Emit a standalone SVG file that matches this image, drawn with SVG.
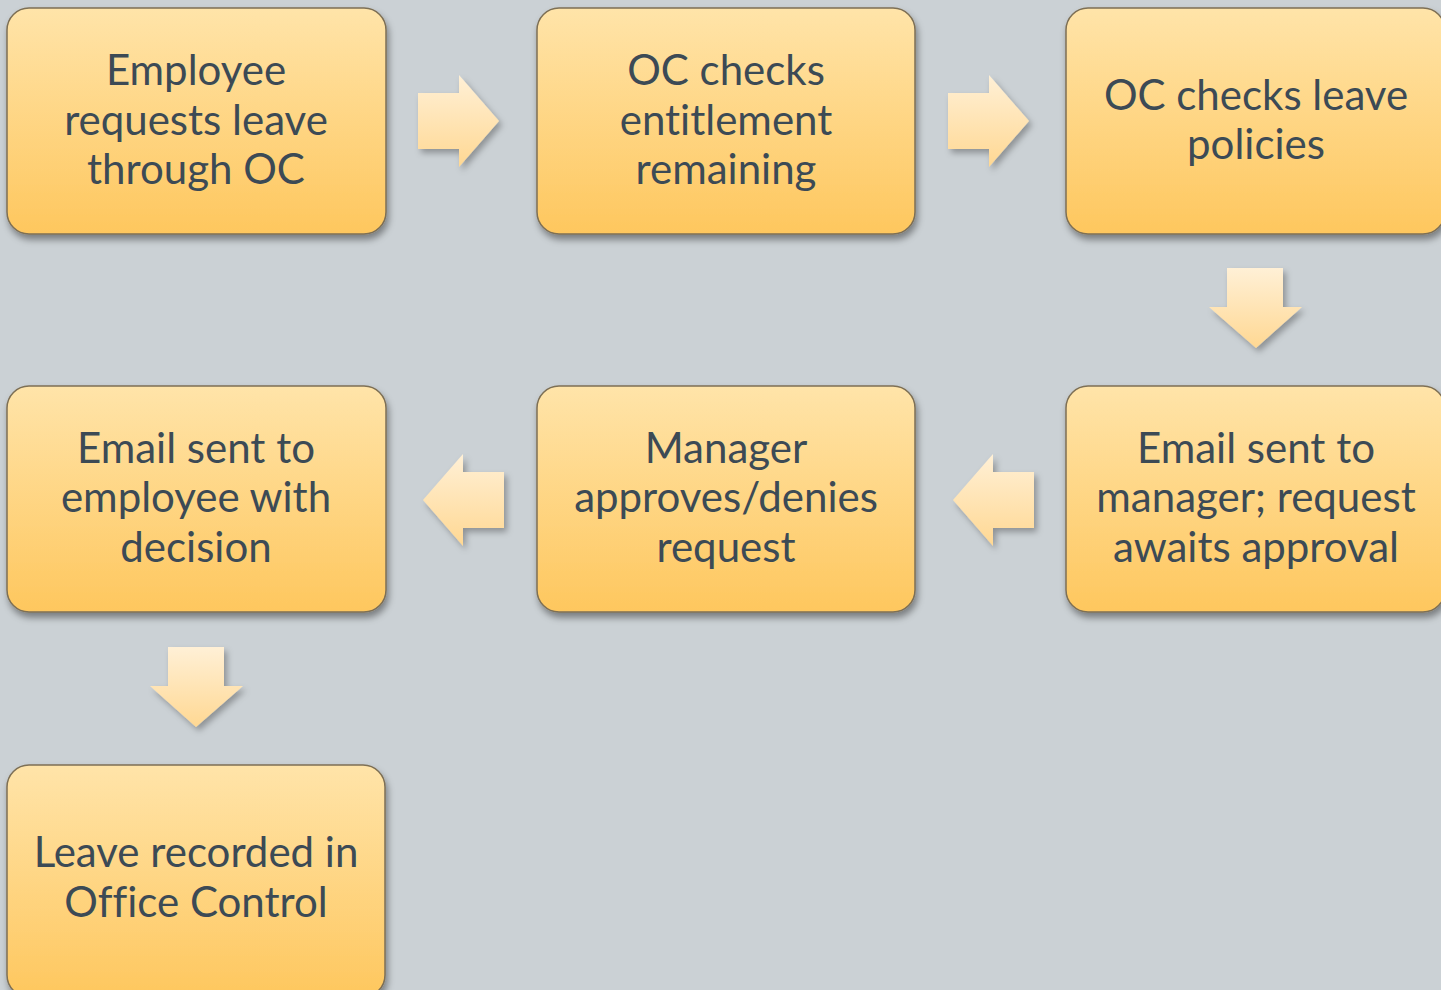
<svg xmlns="http://www.w3.org/2000/svg" width="1441" height="990" viewBox="0 0 1441 990">
<defs>
<linearGradient id="boxg" x1="0" y1="0" x2="0" y2="1">
<stop offset="0" stop-color="#ffe4a9"/>
<stop offset="1" stop-color="#fec75e"/>
</linearGradient>
<linearGradient id="arrg" x1="0" y1="0" x2="0" y2="1">
<stop offset="0" stop-color="#fff0d6"/>
<stop offset="1" stop-color="#ffd893"/>
</linearGradient>
<filter id="sh" x="-10%" y="-10%" width="125%" height="130%">
<feDropShadow dx="2" dy="5" stdDeviation="3.5" flood-color="#000" flood-opacity="0.4"/>
</filter>
<filter id="ash" x="-20%" y="-20%" width="150%" height="150%">
<feDropShadow dx="3" dy="4" stdDeviation="3" flood-color="#000" flood-opacity="0.3"/>
</filter>
</defs>
<style>
.box{fill:url(#boxg);stroke:#7d6f55;stroke-width:1.5;filter:url(#sh)}
.arr{fill:url(#arrg);filter:url(#ash)}
text{font-family:Lato,"Open Sans","Liberation Sans",sans-serif;font-size:42px;fill:#3c4a55;text-anchor:middle;font-variant-ligatures:none}
</style>
<rect width="1441" height="990" fill="#cbd1d5"/>
<g id="connectors">
<polygon class="arr" points="418,93 459,93 459,75 499,121 459,167 459,149 418,149"/>
<polygon class="arr" points="948,93 989,93 989,75 1029,121 989,167 989,149 948,149"/>
<polygon class="arr" points="1227,268 1283,268 1283,307 1302,307 1256,348 1209,307 1227,307"/>
<polygon class="arr" points="1034,472 993,472 993,454 953,500 993,546 993,528 1034,528"/>
<polygon class="arr" points="504,472 463,472 463,454 423,500 463,546 463,528 504,528"/>
<polygon class="arr" points="168,647 224,647 224,686 243,686 196,727 150,686 168,686"/>
</g>
<g id="n1"><rect class="box" x="7" y="8" width="379" height="226" rx="22"/>
<text x="196" y="85">Employee</text><text x="196" y="135">requests leave</text><text x="196" y="184">through OC</text></g>
<g id="n2"><rect class="box" x="537" y="8" width="378" height="226" rx="22"/>
<text x="726" y="85">OC checks</text><text x="726" y="135">entitlement</text><text x="726" y="184">remaining</text></g>
<g id="n3"><rect class="box" x="1066" y="8" width="379" height="226" rx="22"/>
<text x="1256" y="110">OC checks leave</text><text x="1256" y="159">policies</text></g>
<g id="n4"><rect class="box" x="1066" y="386" width="379" height="226" rx="22"/>
<text x="1256" y="463">Email sent to</text><text x="1256" y="512">manager; request</text><text x="1256" y="562">awaits approval</text></g>
<g id="n5"><rect class="box" x="537" y="386" width="378" height="226" rx="22"/>
<text x="726" y="463">Manager</text><text x="726" y="512">approves/denies</text><text x="726" y="562">request</text></g>
<g id="n6"><rect class="box" x="7" y="386" width="379" height="226" rx="22"/>
<text x="196" y="463">Email sent to</text><text x="196" y="512">employee with</text><text x="196" y="562">decision</text></g>
<g id="n7"><rect class="box" x="7" y="765" width="378" height="232" rx="22"/>
<text x="196" y="867">Leave recorded in</text><text x="196" y="917">Office Control</text></g>
</svg>
